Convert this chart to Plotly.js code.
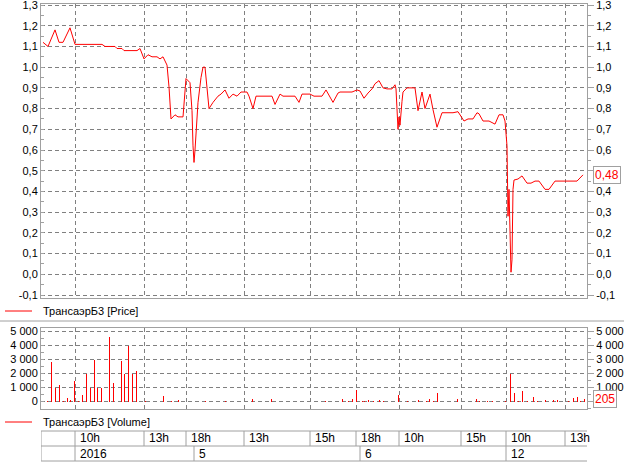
<!DOCTYPE html>
<html>
<head>
<meta charset="utf-8">
<script src="https://cdn.plot.ly/plotly-3.0.1.min.js"></script>
<style>html,body{margin:0;padding:0;background:#fff;}#chart{width:624px;height:462px;}</style>
</head>
<body>
<div id="chart"></div>
<script>
// x values are trading-interval slots on a compressed (non-linear time) axis
const priceSlots = [1,3.5,7,9,11,14.5,17,30.5,32,37,38,40.5,41.5,48,49.5,51.5,53.5,55.5,58,59.5,61,63,64,65,67,68.5,71,71.5,72.5,74.5,75.5,76,76.5,77,77.5,78.5,80,81,82,83,84,86,88.5,90,92,94,96,98,100,103,104,106,107.5,115.5,117,119.5,121,127,129,130.5,134.5,136.5,140.5,142.5,146,148.5,149.5,155.5,158,159.5,161.5,163.5,165.5,167,169,171,173,175.5,177,177.5,178,178.5,179,179.5,180.5,181,183,187,188.5,190.5,192,194.5,196,198,200.5,206,208.5,211.5,213.5,216,218,219,221,224,227,229,231,232,233,233.5,234,234.5,235,235.5,235.8,236,236.5,238.5,240.5,243,245,247,249,252,254,257,268,271];
const priceValues = [1.12,1.10,1.18,1.12,1.12,1.19,1.11,1.11,1.10,1.10,1.09,1.09,1.08,1.08,1.09,1.04,1.06,1.05,1.05,1.04,1.05,1.01,0.905,0.75,0.77,0.76,0.76,0.84,0.945,0.925,0.79,0.62,0.54,0.60,0.70,0.83,0.95,1.00,1.00,0.89,0.80,0.83,0.86,0.87,0.89,0.85,0.87,0.86,0.88,0.88,0.86,0.80,0.86,0.86,0.82,0.87,0.86,0.86,0.83,0.87,0.87,0.86,0.86,0.89,0.83,0.875,0.88,0.88,0.89,0.885,0.85,0.875,0.895,0.92,0.935,0.90,0.895,0.895,0.915,0.895,0.74,0.70,0.76,0.72,0.835,0.88,0.90,0.90,0.79,0.88,0.80,0.87,0.795,0.71,0.78,0.78,0.785,0.74,0.75,0.75,0.78,0.775,0.74,0.74,0.725,0.77,0.77,0.74,0.62,0.28,0.41,0.10,0.01,0.07,0.30,0.41,0.455,0.46,0.475,0.44,0.44,0.45,0.45,0.41,0.41,0.45,0.45,0.48];

const volumeSlots = [3,5,7,9,11,13,14.5,16.5,18.5,20.5,22.5,24.5,26.5,28,30,34,36,40,41.5,43.5,45.5,47.5,52,61,65,68.5,82,92,105.5,115,142,150.5,153.5,155.5,157.5,160.5,161.5,163.5,166,169,171,178.5,183,188.5,192.5,194,196,198,208,217.5,219,223,225.5,232,234.5,236.5,238.5,240.5,243,246,248,252,256,258,263.5,266,268,269.5,271.5];
const volumeValues = [30,2800,1000,1150,30,250,100,1500,30,450,1950,1000,3000,1000,950,4600,1300,2900,1950,4000,2000,2200,30,380,30,120,30,30,180,180,30,170,30,170,820,30,40,100,30,100,30,450,30,120,30,190,30,630,190,190,30,30,30,30,2000,630,30,770,30,350,30,140,120,120,30,280,350,30,205];

const timeSlots = [17,51.5,72.5,101.5,134.5,157.5,179,210,232.5,262];
const timeLabels = ['10h','13h','18h','13h','15h','18h','10h','15h','10h','13h'];
const dateSlots = [17,76.5,159.5,232.5];
const dateLabels = ['2016','5','6','12'];

const priceTicks = [-0.1,0,0.1,0.2,0.3,0.4,0.5,0.6,0.7,0.8,0.9,1.0,1.1,1.2,1.3];
const priceTickText = ['-0,1','0,0','0,1','0,2','0,3','0,4','0,5','0,6','0,7','0,8','0,9','1,0','1,1','1,2','1,3'];
const volumeTicks = [0,1000,2000,3000,4000,5000];
const volumeTickText = ['0','1 000','2 000','3 000','4 000','5 000'];

const seriesName = 'ТрансаэрБ3';
const lastPriceLabel = '0,48';
const lastVolumeLabel = '205';

const W = 624, H = 462;
const px = v => v / W;
const py = v => 1 - v / H;
const RED = '#ff0000';
const FRAME = '#a0a0a0';
const GRID = '#808080';
const FONT = 'Liberation Sans, Arial, sans-serif';
const FS = 11;

const xRange = [0, 273];
const priceRange = [-0.1145, 1.305];
const volRange = [-536, 5250];

const traces = [
  {x: priceSlots, y: priceValues, type: 'scatter', mode: 'lines', line: {color: RED, width: 1}, xaxis: 'x', yaxis: 'y', hoverinfo: 'skip'},
  {x: priceSlots, y: priceValues, type: 'scatter', mode: 'lines', line: {color: 'rgba(0,0,0,0)', width: 0}, xaxis: 'x', yaxis: 'y3', hoverinfo: 'skip'},
  {x: volumeSlots, y: volumeValues, type: 'bar', width: 0.5, marker: {color: RED, line: {width: 0}}, xaxis: 'x2', yaxis: 'y2', hoverinfo: 'skip'},
  {x: volumeSlots, y: volumeValues, type: 'scatter', mode: 'lines', line: {color: 'rgba(0,0,0,0)', width: 0}, xaxis: 'x2', yaxis: 'y4', hoverinfo: 'skip'}
];

const xCommon = {
  range: xRange, domain: [px(41), px(587)], tickvals: timeSlots, showticklabels: false, ticks: '',
  showgrid: true, gridcolor: GRID, griddash: '4px,3px', gridwidth: 1,
  showline: true, mirror: true, linecolor: FRAME, linewidth: 1, zeroline: false, automargin: false, fixedrange: true
};
const yTickFont = {family: FONT, size: FS, color: '#000'};
function yLeft(range, dom, vals, text, minorDtick) {
  return {range: range, domain: dom, tickmode: 'array', tickvals: vals, ticktext: text, side: 'left',
    ticks: 'inside', ticklen: 3, tickcolor: FRAME, minor: {dtick: minorDtick, tick0: 0, ticks: 'inside', ticklen: 3, tickcolor: FRAME},
    showgrid: true, gridcolor: GRID, griddash: '4px,3px', gridwidth: 1, zeroline: false, ticklabeloverflow: 'allow',
    showline: true, mirror: true, linecolor: FRAME, linewidth: 1, tickfont: yTickFont, automargin: false, fixedrange: true};
}
function yRight(range, over, anchor, vals, text, minorDtick) {
  return {range: range, overlaying: over, anchor: anchor, side: 'right', tickmode: 'array', tickvals: vals, ticktext: text,
    ticks: 'outside', ticklen: 6, tickcolor: FRAME, minor: {dtick: minorDtick, tick0: 0, ticks: 'outside', ticklen: 3, tickcolor: FRAME},
    showgrid: false, zeroline: false, showline: false, tickfont: yTickFont, ticklabeloverflow: 'allow', automargin: false, fixedrange: true};
}
// right-hand labels hidden behind the last-value boxes
const priceRightText = priceTickText.map((t, i) => Math.abs(priceTicks[i] - 0.5) < 1e-9 ? '' : t);
const volumeRightText = volumeTickText.map((t, i) => volumeTicks[i] === 0 ? '' : t);

const shapes = [];
const annotations = [];

// separator line
shapes.push({type: 'line', xref: 'paper', yref: 'paper', x0: 0, x1: 1, y0: py(321), y1: py(321), line: {color: FRAME, width: 1}});

// legends
[[311, '[Price]'], [422, '[Volume]']].forEach(function (l) {
  shapes.push({type: 'line', xref: 'paper', yref: 'paper', x0: px(5), x1: px(32), y0: py(l[0]), y1: py(l[0]), line: {color: RED, width: 1}});
  annotations.push({xref: 'paper', yref: 'paper', x: px(41), y: py(l[0]), xanchor: 'left', yanchor: 'middle', showarrow: false,
    text: seriesName + ' ' + l[1], font: {family: FONT, size: FS, color: '#000'}});
});

// time / date table
const rowTop = py(431), rowMid = py(446), rowBot = py(461);
[rowTop, rowMid, rowBot].forEach(function (yy) {
  shapes.push({type: 'line', xref: 'x', yref: 'paper', x0: xRange[0], x1: xRange[1], y0: yy, y1: yy, line: {color: FRAME, width: 1}});
});
[xRange[0]].concat(timeSlots).forEach(function (s) {
  shapes.push({type: 'line', xref: 'x', yref: 'paper', x0: s, x1: s, y0: rowTop, y1: rowMid, line: {color: FRAME, width: 1}});
});
[xRange[0]].concat(dateSlots).forEach(function (s) {
  shapes.push({type: 'line', xref: 'x', yref: 'paper', x0: s, x1: s, y0: rowMid, y1: rowBot, line: {color: FRAME, width: 1}});
});
timeSlots.forEach(function (s, i) {
  annotations.push({xref: 'x', yref: 'paper', x: s, y: (rowTop + rowMid) / 2, xanchor: 'left', yanchor: 'middle', xshift: 3,
    showarrow: false, text: timeLabels[i], font: {family: FONT, size: 12, color: '#000'}});
});
dateSlots.forEach(function (s, i) {
  annotations.push({xref: 'x', yref: 'paper', x: s, y: (rowMid + rowBot) / 2, xanchor: 'left', yanchor: 'middle', xshift: 3,
    showarrow: false, text: dateLabels[i], font: {family: FONT, size: 12, color: '#000'}});
});

// last value labels
annotations.push({xref: 'paper', yref: 'y', x: px(593), y: priceValues[priceValues.length - 1], xanchor: 'left', yanchor: 'middle',
  showarrow: false, text: lastPriceLabel, font: {family: FONT, size: 12, color: RED}, bordercolor: FRAME, borderwidth: 1, borderpad: 1, bgcolor: '#fff'});
annotations.push({xref: 'paper', yref: 'y2', x: px(593), y: volumeValues[volumeValues.length - 1], xanchor: 'left', yanchor: 'middle',
  showarrow: false, text: lastVolumeLabel, font: {family: FONT, size: 12, color: RED}, bordercolor: FRAME, borderwidth: 1, borderpad: 1, bgcolor: '#fff'});

const layout = {
  width: W, height: H, autosize: false,
  margin: {l: 0, r: 0, t: 0, b: 0, pad: 0},
  paper_bgcolor: '#fff', plot_bgcolor: '#fff',
  separators: ', ',
  showlegend: false,
  bargap: 0,
  font: {family: FONT, size: FS, color: '#000'},
  xaxis: Object.assign({}, xCommon, {anchor: 'y'}),
  xaxis2: Object.assign({}, xCommon, {anchor: 'y2', matches: 'x'}),
  yaxis: Object.assign(yLeft(priceRange, [py(298), py(4)], priceTicks, priceTickText, 0.05), {anchor: 'x'}),
  yaxis3: yRight(priceRange, 'y', 'x', priceTicks, priceRightText, 0.05),
  yaxis2: Object.assign(yLeft(volRange, [py(409), py(328)], volumeTicks, volumeTickText, 500), {anchor: 'x2'}),
  yaxis4: yRight(volRange, 'y2', 'x2', volumeTicks, volumeRightText, 500),
  shapes: shapes,
  annotations: annotations
};

Plotly.newPlot('chart', traces, layout, {staticPlot: true, displayModeBar: false});
</script>
</body>
</html>
